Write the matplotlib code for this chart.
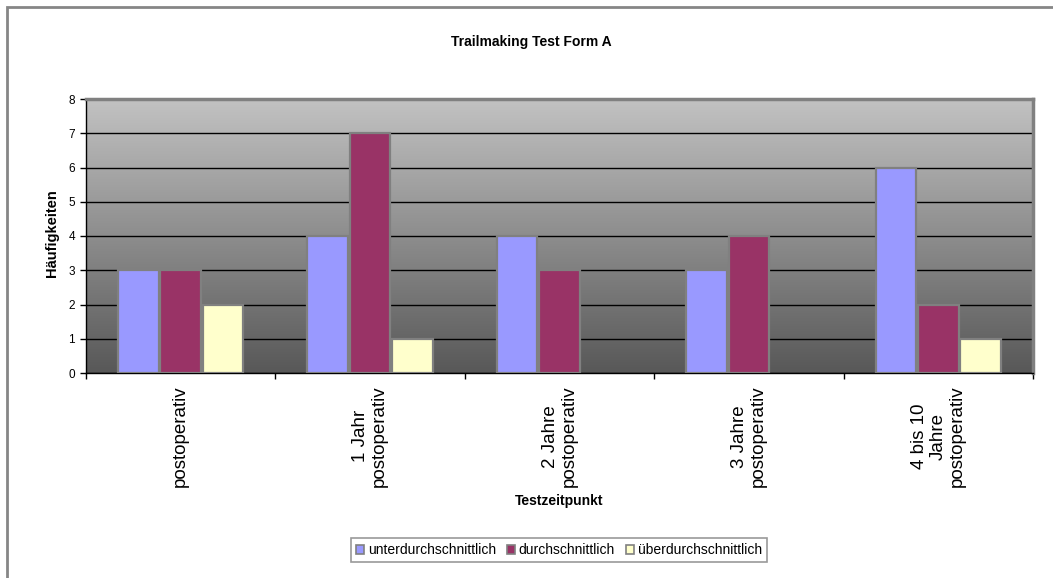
import numpy as np
import matplotlib.pyplot as plt
from matplotlib.patches import Rectangle
from matplotlib.patches import Patch

plt.rcParams['font.family'] = ['Liberation Sans', 'DejaVu Sans']

categories = ['postoperativ', '1 Jahr\npostoperativ', '2 Jahre\npostoperativ',
              '3 Jahre\npostoperativ', '4 bis 10\nJahre\npostoperativ']
series_names = ['unterdurchschnittlich', 'durchschnittlich', 'überdurchschnittlich']
unter = [3, 4, 4, 3, 6]
durch = [3, 7, 3, 4, 2]
ueber = [2, 1, 0, 0, 1]
colors = ['#9999FF', '#993366', '#FFFFCC']

fig = plt.figure(figsize=(10.53, 5.78), dpi=100)

# outer chart frame
fig.patches.append(Rectangle((7 / 1053, -0.1), 1.2, 1 - 7 / 578 + 0.1,
                             transform=fig.transFigure, fill=False,
                             edgecolor='#868686', linewidth=2))

ax = fig.add_axes([86 / 1053, 1 - 373 / 578, 947 / 1053, 274 / 578])

# grey gradient background of the plot area
grad = np.linspace(0, 1, 256).reshape(-1, 1)
top = np.array([0xc2, 0xc2, 0xc2]) / 255
bot = np.array([0x58, 0x58, 0x58]) / 255
img = top + (bot - top) * grad[:, :, None]
ax.imshow(img, extent=[0, 1, 0, 1], transform=ax.transAxes, aspect='auto',
          zorder=0, interpolation='bilinear')

x = np.arange(len(categories))
w = 0.215
off = 0.224
for i, vals in enumerate([unter, durch, ueber]):
    # empty bars get no outline
    edges = ['#808080' if v > 0 else 'none' for v in vals]
    ax.bar(x + (i - 1) * off, vals, width=w, color=colors[i],
           edgecolor=edges, linewidth=1.6, zorder=3)

ax.set_xlim(-0.5, 4.5)
ax.set_ylim(0, 8)
ax.set_yticks(range(0, 9))
ax.yaxis.grid(True, color='black', linewidth=1)
ax.set_axisbelow(True)
for gl in ax.get_ygridlines():
    gl.set_zorder(1)

ax.set_xticks(x)
ax.set_xticklabels(categories, rotation=90, fontsize=13.5,
                   multialignment='center', linespacing=1.15)
ax.set_xticks(np.arange(-0.5, 5, 1), minor=True)
ax.tick_params(axis='x', which='major', length=0, pad=9)
ax.tick_params(axis='x', which='minor', length=4, width=1, color='black',
               direction='out')
ax.tick_params(axis='y', length=4, width=1, direction='out', pad=4,
               labelsize=8.5)

for side in ['top', 'right']:
    ax.spines[side].set_color('#808080')
    ax.spines[side].set_linewidth(2.5)
ax.spines['left'].set_color('black')
ax.spines['bottom'].set_color('black')
ax.spines['left'].set_linewidth(1)
ax.spines['bottom'].set_linewidth(1)

fig.text(0.505, 1 - 42 / 578, 'Trailmaking Test Form A', ha='center',
         va='center', fontsize=10, fontweight='bold')
fig.text(52 / 1053, 1 - 233 / 578, 'Häufigkeiten', rotation=90, ha='center',
         va='center', fontsize=10.5, fontweight='bold')
fig.text(559 / 1053, 1 - 501 / 578, 'Testzeitpunkt', ha='center',
         va='center', fontsize=10, fontweight='bold')

handles = [Patch(facecolor=c, edgecolor='#808080', linewidth=1.2) for c in colors]
leg = fig.legend(handles, series_names, loc='center',
                 bbox_to_anchor=(559 / 1053, 1 - 550 / 578), ncol=3,
                 fontsize=10, frameon=True, fancybox=False,
                 handlelength=0.6, handleheight=0.6, handletextpad=0.25,
                 columnspacing=0.8, borderpad=0.35, borderaxespad=0)
leg.get_frame().set_edgecolor('#808080')
leg.get_frame().set_linewidth(1.2)

fig.savefig('out.png', dpi=100)
